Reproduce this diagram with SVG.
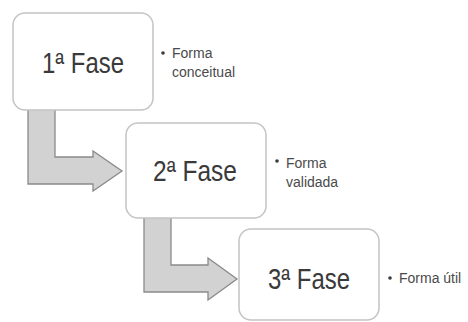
<svg xmlns="http://www.w3.org/2000/svg" width="468" height="322" viewBox="0 0 468 322">
  <style>
    .box { fill: #ffffff; stroke: #c4c4c4; stroke-width: 1.5; }
    .arrow { fill: #d2d2d2; stroke: #8a8a8a; stroke-width: 1.3; stroke-linejoin: miter; }
    .title { font-family: "Liberation Sans", Arial, sans-serif; font-size: 29px; fill: #3a3a3a; text-anchor: middle; }
    .note { font-family: "Liberation Sans", Arial, sans-serif; font-size: 14px; fill: #4a4a4a; }
    .dot { fill: #3a3a3a; }
  </style>
  <rect width="468" height="322" fill="#ffffff"/>

  <!-- elbow arrows between phases -->
  <g id="connectors">
    <path class="arrow" d="M28,109 L55,109 L55,157 L93,157 L93,151 L122,171 L93,191 L93,184 L28,184 Z"/>
    <path class="arrow" d="M144,217 L171,217 L171,265 L208,265 L208,258 L237,279 L208,300 L208,292 L144,292 Z"/>
  </g>

  <g id="fase1">
    <rect class="box" x="13" y="13" width="140" height="97" rx="12"/>
    <text class="title" x="83" y="73" textLength="82" lengthAdjust="spacingAndGlyphs">1ª Fase</text>
    <circle class="dot" cx="163" cy="53" r="1.8"/>
    <text class="note" x="172" y="58">Forma</text>
    <text class="note" x="172" y="77">conceitual</text>
  </g>

  <g id="fase2">
    <rect class="box" x="126" y="123" width="140" height="95" rx="12"/>
    <text class="title" x="195" y="181" textLength="84" lengthAdjust="spacingAndGlyphs">2ª Fase</text>
    <circle class="dot" cx="277" cy="161" r="1.8"/>
    <text class="note" x="286" y="168">Forma</text>
    <text class="note" x="286" y="187">validada</text>
  </g>

  <g id="fase3">
    <rect class="box" x="239" y="229" width="140" height="91" rx="12"/>
    <text class="title" x="309" y="289" textLength="82" lengthAdjust="spacingAndGlyphs">3ª Fase</text>
    <circle class="dot" cx="390" cy="278" r="1.8"/>
    <text class="note" x="399" y="283">Forma útil</text>
  </g>
</svg>
